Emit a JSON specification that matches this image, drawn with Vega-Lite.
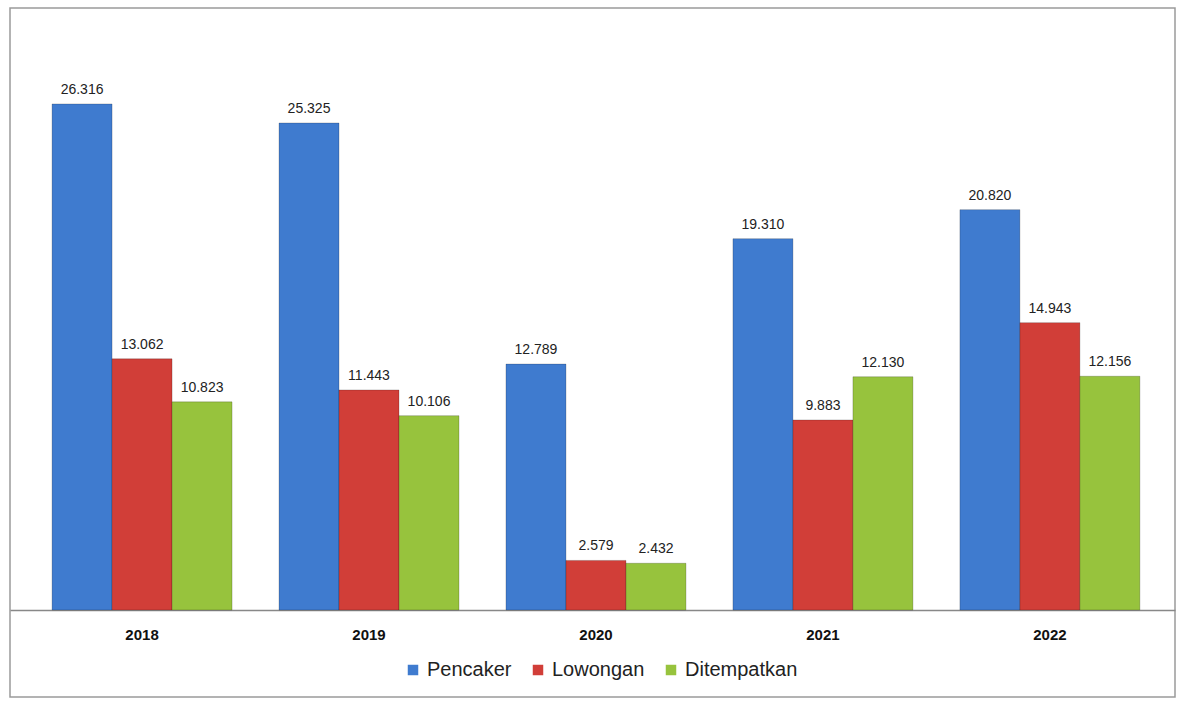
{
  "$schema": "https://vega.github.io/schema/vega-lite/v6.json",
  "width": 1165,
  "height": 689,
  "padding": {"left": 10, "top": 8, "right": 3, "bottom": 4},
  "autosize": {"type": "none"},
  "background": "white",
  "config": {
    "view": {"stroke": "#9a9a9a", "strokeWidth": 1.5},
    "font": "Liberation Sans"
  },
  "data": {
    "values": [
      {"year": "2018", "series": "Pencaker", "value": 26316, "label": "26.316"},
      {"year": "2018", "series": "Lowongan", "value": 13062, "label": "13.062"},
      {"year": "2018", "series": "Ditempatkan", "value": 10823, "label": "10.823"},
      {"year": "2019", "series": "Pencaker", "value": 25325, "label": "25.325"},
      {"year": "2019", "series": "Lowongan", "value": 11443, "label": "11.443"},
      {"year": "2019", "series": "Ditempatkan", "value": 10106, "label": "10.106"},
      {"year": "2020", "series": "Pencaker", "value": 12789, "label": "12.789"},
      {"year": "2020", "series": "Lowongan", "value": 2579, "label": "2.579"},
      {"year": "2020", "series": "Ditempatkan", "value": 2432, "label": "2.432"},
      {"year": "2021", "series": "Pencaker", "value": 19310, "label": "19.310"},
      {"year": "2021", "series": "Lowongan", "value": 9883, "label": "9.883"},
      {"year": "2021", "series": "Ditempatkan", "value": 12130, "label": "12.130"},
      {"year": "2022", "series": "Pencaker", "value": 20820, "label": "20.820"},
      {"year": "2022", "series": "Lowongan", "value": 14943, "label": "14.943"},
      {"year": "2022", "series": "Ditempatkan", "value": 12156, "label": "12.156"}
    ]
  },
  "encoding": {
    "x": {
      "field": "year",
      "type": "nominal",
      "scale": {"paddingInner": 0.207, "paddingOuter": 0.17, "align": 0.545},
      "axis": {
        "title": null,
        "orient": "bottom",
        "offset": -87,
        "domainColor": "#888888",
        "domainWidth": 1.5,
        "ticks": false,
        "labelAngle": 0,
        "labelFont": "Liberation Sans",
        "labelFontWeight": "bold",
        "labelFontSize": 15,
        "labelColor": "#111111",
        "labelPadding": 17
      }
    },
    "xOffset": {
      "field": "series",
      "type": "nominal",
      "sort": ["Pencaker", "Lowongan", "Ditempatkan"],
      "scale": {"paddingInner": 0, "paddingOuter": 0}
    },
    "y": {
      "field": "value",
      "type": "quantitative",
      "scale": {"domain": [-4524, 31305], "nice": false, "zero": false},
      "axis": null
    }
  },
  "layer": [
    {
      "mark": {"type": "bar", "stroke": "#00000033", "strokeWidth": 1},
      "encoding": {
        "y2": {"datum": 0},
        "color": {
          "field": "series",
          "type": "nominal",
          "sort": ["Pencaker", "Lowongan", "Ditempatkan"],
          "scale": {
            "domain": ["Pencaker", "Lowongan", "Ditempatkan"],
            "range": ["#3F7BCF", "#D13E38", "#97C33D"]
          },
          "legend": {
            "title": null,
            "orient": "none",
            "direction": "horizontal",
            "legendX": 393,
            "legendY": 652,
            "symbolType": "square",
            "symbolSize": 110,
            "symbolStrokeWidth": 0,
            "labelFontSize": 20,
            "labelColor": "#222222",
            "labelFont": "Liberation Sans",
            "columnPadding": 16,
            "labelOffset": 4
          }
        }
      }
    },
    {
      "mark": {"type": "text", "baseline": "bottom", "dy": -7, "fontSize": 14, "color": "#222222"},
      "encoding": {
        "text": {"field": "label"}
      }
    }
  ]
}
